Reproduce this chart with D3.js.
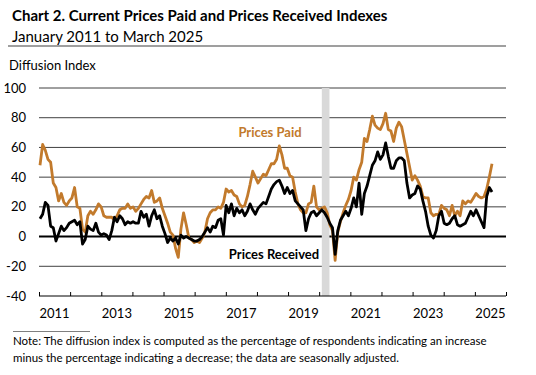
<!DOCTYPE html>
<html>
<head>
<meta charset="utf-8">
<script src="https://cdn.jsdelivr.net/npm/d3@7"></script>
<style>
  body { margin: 0; background: #fff; }
  svg { display: block; font-family: Lato, "Open Sans", sans-serif; }
</style>
</head>
<body>
<svg id="chart" width="536" height="375"></svg>
<script>
// monthly values, Jan 2011 .. Mar 2025
const pricesPaid = [
  48,62,58,52,50,36,33,24,29,23,21,24,26,33,20,19,5,3,14,17,15,18,22,20,14,13,13,13,11,14,
  18,19,19,22,19,20,17,19,22,25,27,26,31,23,24,26,19,14,9,3,1,-8,-14,5,16,8,-1,-2,-4,-3,
  -4,-1,3,12,16,18,18,20,19,23,32,30,31,28,27,22,20,21,27,35,44,40,36,39,42,41,45,49,49,52,
  61,55,46,46,41,40,30,22,18,16,16,22,23,34,20,18,19,20,16,8,4,-16,3,10,16,21,25,31,40,38,
  45,50,66,64,72,81,75,73,72,76,83,72,71,64,73,77,74,65,56,47,38,41,38,34,27,26,26,16,14,15,
  15,21,19,18,14,21,14,17,14,24,22,24,23,26,29,27,26,27,32,40,49
];
const pricesReceived = [
  12,15,23,21,7,6,-3,2,7,4,6,9,10,11,8,10,-5,-2,7,5,4,9,3,1,2,1,-2,4,13,10,
  14,12,8,10,9,10,9,9,17,13,15,7,14,18,12,14,7,2,-4,-1,-3,-1,-5,1,-1,0,-1,-2,-3,-3,
  -2,0,3,6,3,7,6,11,12,1,21,16,22,14,19,16,18,14,17,22,18,15,19,21,23,22,27,32,35,37,
  38,34,29,33,29,31,24,22,20,18,4,12,16,17,14,16,18,16,13,9,6,-12,4,11,14,17,14,19,26,20,
  36,15,29,34,41,48,51,57,52,55,63,54,46,46,51,53,53,51,36,26,28,29,34,32,24,17,7,1,-1,4,
  14,17,9,8,9,12,14,8,7,8,9,13,17,14,18,14,10,6,27,33,30
];
const yTicks = [-40, -20, 0, 20, 40, 60, 80, 100];
const yearLabels = [2011, 2013, 2015, 2017, 2019, 2021, 2023, 2025];
const recession = [new Date(2020, 1, 1), new Date(2020, 4, 1)];

const svg = d3.select("#chart");
const orange = "#c27a2c";

const y = d3.scaleLinear().domain([-40, 100]).range([296, 88]);
const xYear = d3.scaleTime().domain([new Date(2011, 0, 1), new Date(2026, 0, 1)]).range([39, 506]);
const xMonth = d3.scaleLinear().domain([0, pricesPaid.length - 1]).range([40, 492]);

// titles
svg.append("text").attr("x", 12).attr("y", 21)
  .attr("font-size", 15).attr("font-weight", "bold").attr("fill", "#000")
  .text("Chart 2. Current Prices Paid and Prices Received Indexes");
svg.append("text").attr("x", 12).attr("y", 42)
  .attr("font-size", 15).attr("fill", "#000")
  .text("January 2011 to March 2025");
svg.append("line").attr("x1", 8).attr("x2", 506).attr("y1", 46).attr("y2", 46)
  .attr("stroke", "#7f7f7f").attr("stroke-width", 1.5);
svg.append("text").attr("x", 9).attr("y", 70).attr("font-size", 13)
  .text("Diffusion Index");

// gridlines
svg.append("g").selectAll("line")
  .data(yTicks.filter(d => d > -40))
  .join("line")
  .attr("x1", 39).attr("x2", 506)
  .attr("y1", d => y(d)).attr("y2", d => y(d))
  .attr("stroke", d => d === 0 ? "#000" : "#404040")
  .attr("stroke-width", d => d === 0 ? 2 : 1);

// recession shading
svg.append("rect")
  .attr("x", xYear(recession[0])).attr("width", xYear(recession[1]) - xYear(recession[0]))
  .attr("y", y(100)).attr("height", y(-40) - y(100))
  .attr("fill", "#d9d9d9");

// y labels
svg.append("g").selectAll("text")
  .data(yTicks)
  .join("text")
  .attr("x", 26).attr("y", d => y(d) + 4.5)
  .attr("text-anchor", "end").attr("font-size", 13)
  .text(d => d);

// x axis
const xAxis = d3.axisTop(xYear).ticks(d3.timeYear.every(1)).tickSize(4).tickFormat("");
const gx = svg.append("g").attr("transform", `translate(0,${y(-40)})`).call(xAxis);
gx.select(".domain").attr("stroke", "#000").attr("d", "M39,0H506");
gx.selectAll(".tick line").attr("stroke", "#000");

svg.append("g").selectAll("text")
  .data(yearLabels)
  .join("text")
  .attr("x", d => (xYear(new Date(d, 0, 1)) + xYear(new Date(d + 1, 0, 1))) / 2)
  .attr("y", 318).attr("text-anchor", "middle").attr("font-size", 13)
  .text(d => d);

// lines
const line = d3.line().x((d, i) => xMonth(i)).y(d => y(d));
svg.append("path").datum(pricesPaid).attr("d", line)
  .attr("fill", "none").attr("stroke", orange).attr("stroke-width", 2.8)
  .attr("stroke-linejoin", "round");
svg.append("path").datum(pricesReceived).attr("d", line)
  .attr("fill", "none").attr("stroke", "#000").attr("stroke-width", 2.8)
  .attr("stroke-linejoin", "round");

// series labels
svg.append("text").attr("x", 270).attr("y", 137).attr("text-anchor", "middle")
  .attr("font-size", 13).attr("font-weight", "bold").attr("fill", orange)
  .text("Prices Paid");
svg.append("text").attr("x", 274).attr("y", 259).attr("text-anchor", "middle")
  .attr("font-size", 13).attr("font-weight", "bold").attr("fill", "#000")
  .text("Prices Received");

// note
svg.append("line").attr("x1", 13).attr("x2", 90).attr("y1", 331.5).attr("y2", 331.5)
  .attr("stroke", "#7f7f7f").attr("stroke-width", 1);
const note = svg.append("text").attr("font-size", 11.5).attr("fill", "#000");
note.append("tspan").attr("x", 13).attr("y", 345)
  .text("Note: The diffusion index is computed as the percentage of respondents indicating an increase");
note.append("tspan").attr("x", 13).attr("y", 362)
  .text("minus the percentage indicating a decrease; the data are seasonally adjusted.");
</script>
</body>
</html>
